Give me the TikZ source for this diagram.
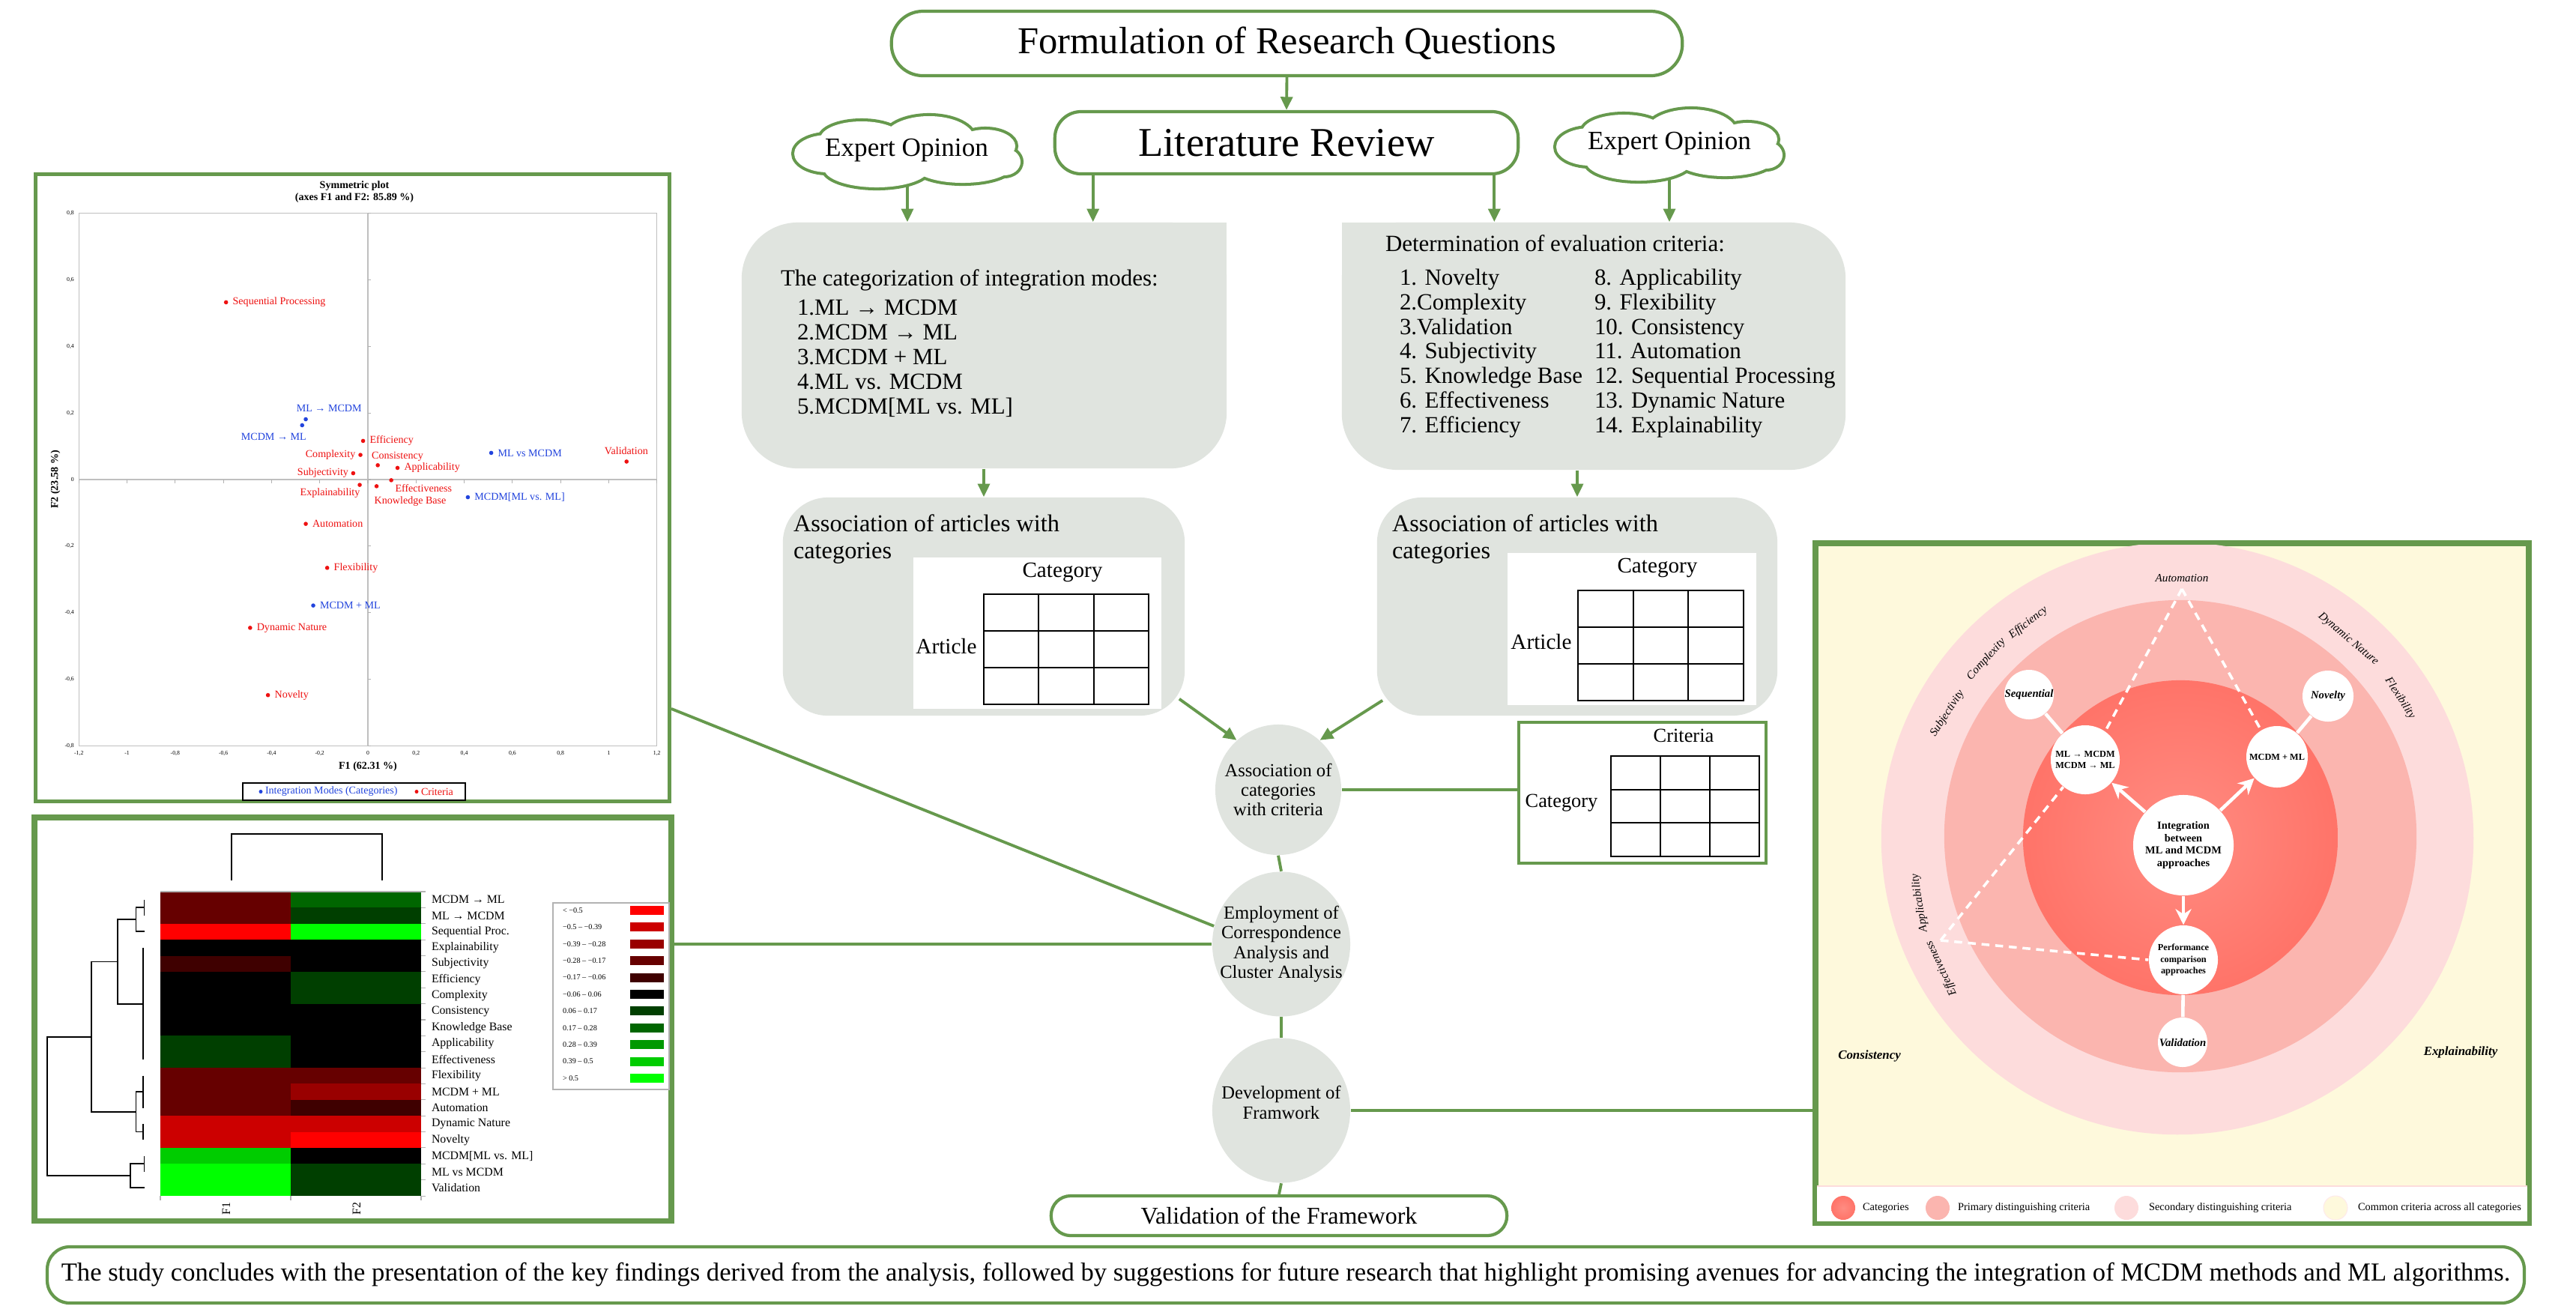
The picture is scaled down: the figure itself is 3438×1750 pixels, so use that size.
\documentclass[tikz,border=0pt]{standalone}
\usepackage{fontspec}
\setmainfont{Liberation Serif}
\usetikzlibrary{shapes.geometric,arrows.meta,calc}
\definecolor{gr}{HTML}{66994D}
\definecolor{gfill}{HTML}{E0E4DF}
\definecolor{cblue}{HTML}{2244DD}
\definecolor{cred}{HTML}{EE1111}
\definecolor{fwy}{HTML}{FEF9DC}
\definecolor{fwsec}{HTML}{FDDCDC}
\definecolor{fwpri}{HTML}{FBB5AF}
\definecolor{fwin}{HTML}{FF8C82}
\definecolor{fwout}{HTML}{FF5B4F}
\definecolor{hA}{HTML}{FF0000}
\definecolor{hB}{HTML}{CC0000}
\definecolor{hC}{HTML}{990000}
\definecolor{hD}{HTML}{660000}
\definecolor{hE}{HTML}{3F0000}
\definecolor{hF}{HTML}{000000}
\definecolor{hG}{HTML}{003F00}
\definecolor{hH}{HTML}{006600}
\definecolor{hI}{HTML}{009900}
\definecolor{hJ}{HTML}{00CC00}
\definecolor{hK}{HTML}{00FF00}
\pgfdeclareradialshading{catshade}{\pgfpoint{0bp}{0bp}}{color(0bp)=(fwin); color(50bp)=(fwout)}
\newcommand\myfs[2]{\fontsize{#1pt}{#2pt}\selectfont}
\newcommand\tgrid[4]{%
  \draw[gridl] (#1,#2) rectangle (#3,#4);
  \foreach \tt in {1,2}{%
    \draw[gridl] ({#1+(#3-#1)*\tt/3},#2) -- ({#1+(#3-#1)*\tt/3},#4);
    \draw[gridl] (#1,{#2+(#4-#2)*\tt/3}) -- (#3,{#2+(#4-#2)*\tt/3});}}
\newcommand\lobelist{1105/205/0.45/0.25, 1150/185/0.55/0.23, 1240/185/0.6/0.3, 1315/195/0.4/0.22, 1340/216/0.22/0.18, 1285/222/0.65/0.22, 1170/225/0.7/0.25, 1210/205/1.3/0.3}
\newcommand\drawcloud{%
  \foreach \cx/\cy/\rx/\ry in \lobelist {\draw[gr, line width=2.3pt] (\cx,\cy) ellipse [x radius=\rx cm, y radius=\ry cm];}
  \foreach \cx/\cy/\rx/\ry in \lobelist {\fill[white] (\cx,\cy) ellipse [x radius=\rx cm, y radius=\ry cm];}}
\tikzset{
  gline/.style={draw=gr, line width=1.1pt},
  garr/.style={gline, -{Triangle[width=4.5pt,length=5pt]}},
  stad/.style={draw=gr, line width=1.2pt, rounded corners=#1, fill=white, inner sep=0pt},
  greybox/.style={fill=gfill, rounded corners=0.75cm, inner sep=0pt},
  gell/.style={ellipse, fill=gfill, inner sep=0pt},
  panel/.style={draw=gr, line width=1.5pt, fill=white, inner sep=0pt},
  txt/.style={inner sep=0pt, outer sep=0pt},
  gridl/.style={draw=black, line width=0.6pt},
  wcirc/.style={circle, fill=white, inner sep=0pt},
  wline/.style={draw=white, line width=1.3pt},
  warr/.style={wline, -{Stealth[width=6pt,length=6pt]}},
  wdash/.style={draw=white, line width=1pt, dash pattern=on 3pt off 2.2pt},
  slab/.style={txt, font=\myfs{4}{4.6}},
  hlab/.style={txt, font=\myfs{4.5}{5}},
  hlegt/.style={txt, font=\myfs{2.9}{3.2}},
  fwt/.style={txt, align=center, font=\myfs{4.1}{4.7}\bfseries},
  fwi/.style={txt, font=\myfs{4.3}{5}\itshape},
  boxt/.style={txt, anchor=west, font=\myfs{8.8}{9.4}},
}
\begin{document}
\begin{tikzpicture}[x=0.01cm, y=-0.01cm]
\useasboundingbox (0,0) rectangle (3438,1750);
\fill[white] (0,0) rectangle (3438,1750);

% ---------------- top flow ----------------
\node[stad=0.42cm, minimum width=10.55cm, minimum height=0.86cm, font=\myfs{14.4}{16}] (rq) at (1717.5,58) {Formulation of Research Questions};
\node[stad=0.35cm, minimum width=6.18cm, minimum height=0.83cm, font=\myfs{15.5}{17}] (lit) at (1717,190.5) {Literature Review};
\drawcloud
\node[txt, font=\myfs{10}{11}] (eoL) at (1210,201) {Expert Opinion};
\begin{scope}[shift={(1017,-9)}]
\drawcloud
\end{scope}
\node[txt, font=\myfs{10}{11}] (eoR) at (2228,192) {Expert Opinion};
\coordinate (eoLb) at (1211,249);
\coordinate (eoRb) at (2228,240);

\node[greybox, minimum width=6.47cm, minimum height=3.28cm] (catbox) at (1313.5,461) {};
\fill[gfill] (1537,297) rectangle (1637,400);
\node[greybox, minimum width=6.72cm, minimum height=3.30cm] (detbox) at (2127,462) {};
\fill[gfill] (1791,297) rectangle (1891,400);

\draw[garr] (rq.south) -- (lit.north);
\coordinate (litA) at ($(lit.south west)+(53,0)$);
\coordinate (litB) at ($(lit.south east)+(-34,0)$);
\draw[garr] (eoLb) -- (eoLb |- catbox.north);
\draw[garr] (litA) -- (litA |- catbox.north);
\draw[garr] (litB) -- (litB |- detbox.north);
\draw[garr] (eoRb) -- (eoRb |- detbox.north);

\node[boxt] (cat0) at (1042,374) {The categorization of integration modes:};
\node[txt, anchor=north west, align=left, font=\myfs{8.8}{9.39}] (catL) at (1064,400) {1.ML → MCDM\\2.MCDM → ML\\3.MCDM + ML\\4.ML vs. MCDM\\5.MCDM[ML vs. ML]};
\node[boxt] (det0) at (1849,325) {Determination of evaluation criteria:};
\node[txt, anchor=north west, align=left, font=\myfs{8.8}{9.33}] (detA) at (1868,359) {1. Novelty\\2.Complexity\\3.Validation\\4. Subjectivity\\5. Knowledge Base\\6. Effectiveness\\7. Efficiency};
\node[txt, anchor=north west, align=left, font=\myfs{8.8}{9.33}] (detB) at (2128,359) {8. Applicability\\9. Flexibility\\10. Consistency\\11. Automation\\12. Sequential Processing\\13. Dynamic Nature\\14. Explainability};

% association boxes
\node[greybox, rounded corners=0.6cm, minimum width=5.36cm, minimum height=2.91cm] (assocL) at (1313,809.5) {};
\node[greybox, rounded corners=0.6cm, minimum width=5.34cm, minimum height=2.91cm] (assocR) at (2105,809.5) {};
\draw[garr] (catbox.south -| assocL.north) -- (assocL.north);
\draw[garr] (detbox.south -| assocR.north) -- (assocR.north);

\node[txt, anchor=west, align=left, font=\myfs{9.2}{10.2}] (aLt) at (1059,720) {Association of articles with\\categories};
\fill[white] (1219,744) rectangle (1550,946);
\node[txt, font=\myfs{8.3}{9}] (aLc) at (1418,764) {Category};
\node[txt, font=\myfs{8.3}{9}] (aLa) at (1263,862) {Article};
\tgrid{1313}{793}{1533}{940}

\node[txt, anchor=west, align=left, font=\myfs{9.2}{10.2}] (aRt) at (1858,720) {Association of articles with\\categories};
\fill[white] (2012,738) rectangle (2344,941);
\node[txt, font=\myfs{8.3}{9}] (aRc) at (2212,758) {Category};
\node[txt, font=\myfs{8.3}{9}] (aRa) at (2057,856) {Article};
\tgrid{2106}{788}{2327}{935}

% ---------------- central ellipses ----------------
\node[gell, minimum width=1.68cm, minimum height=1.74cm] (assocE) at (1706,1054) {};
\node[txt, align=center, font=\myfs{7}{7.5}] (assocEt) at (assocE) {Association of\\categories\\with criteria};
\node[gell, minimum width=1.84cm, minimum height=1.93cm] (empE) at (1710,1260) {};
\node[txt, align=center, font=\myfs{7}{7.5}] (empEt) at (empE) {Employment of\\Correspondence\\Analysis and\\Cluster Analysis};
\node[gell, minimum width=1.84cm, minimum height=1.93cm] (devE) at (1710,1482) {};
\node[txt, align=center, font=\myfs{7}{7.5}] (devEt) at ([yshift=3pt]devE.center) {Development of\\Framwork};
\node[stad=0.26cm, minimum width=6.08cm, minimum height=0.53cm, font=\myfs{9.1}{10}] (valid) at (1707,1622.5) {Validation of the Framework};

\coordinate (aLend) at ($(assocL.south east)+(-8,-23)$);
\coordinate (aRend) at ($(assocR.south west)+(8,-21)$);
\draw[garr] (aLend) -- (assocE.130);
\draw[garr] (aRend) -- (assocE.50);
\draw[gline] (assocE.south) -- (empE.north);
\draw[gline] (empE.south) -- (devE.north);
\draw[gline] (devE.south) -- (valid.north);

% criteria box
\node[draw=gr, line width=1.2pt, fill=white, inner sep=0pt, minimum width=3.30cm, minimum height=1.88cm] (critbox) at (2192,1058) {};
\node[txt, font=\myfs{7.5}{8}] (critT) at (2247,982) {Criteria};
\node[txt, font=\myfs{7.5}{8}] (critC) at (2084,1072) {Category};
\tgrid{2150}{1009}{2348}{1143}
\draw[gline] (assocE.east) -- (assocE.east -| critbox.west);

% bottom sentence
\node[stad=0.3cm, minimum width=33.04cm, minimum height=0.75cm, font=\myfs{9.84}{11}] (concl) at (1716,1701.5) {The study concludes with the presentation of the key findings derived from the analysis, followed by suggestions for future research that highlight promising avenues for advancing the integration of MCDM methods and ML algorithms.};

% ---------------- scatter panel ----------------
\node[panel, minimum width=8.45cm, minimum height=8.36cm] (scatter) at (470.5,651) {};
\node[txt, align=center, font=\myfs{4}{4.6}\bfseries] (stitle) at (473,256) {Symmetric plot\\(axes F1 and F2: 85.89 \%)};
\node[txt, font=\myfs{4}{4.6}\bfseries] (sxl) at (491,1023) {F1 (62.31 \%)};
\node[txt, rotate=90, font=\myfs{4}{4.6}\bfseries] (syl) at (74,640) {F2 (23.58 \%)};
\begin{scope}[shift={(491,640)}, x=3.2125cm, y=4.444cm]
  \draw[gray!50, line width=0.3pt] (-1.2,-0.8) rectangle (1.2,0.8);
  \draw[gray!50, line width=0.3pt] (-1.2,0) -- (1.2,0);
  \draw[gray!50, line width=0.3pt] (0,-0.8) -- (0,0.8);
  \foreach \v/\t [count=\k] in {-1.2/{-1,2},-1/{-1},-0.8/{-0,8},-0.6/{-0,6},-0.4/{-0,4},-0.2/{-0,2},0/{0},0.2/{0,2},0.4/{0,4},0.6/{0,6},0.8/{0,8},1/{1},1.2/{1,2}}{
    \draw[gray!60, line width=0.3pt] (\v,0) -- ++(0,-0.012);
    \node[txt, anchor=north, font=\myfs{2.2}{2.5}] (sx\k) at (\v,-0.815) {\t};}
  \foreach \v/\t [count=\k] in {0.8/{0,8},0.6/{0,6},0.4/{0,4},0.2/{0,2},0/{0},-0.2/{-0,2},-0.4/{-0,4},-0.6/{-0,6},-0.8/{-0,8}}{
    \draw[gray!60, line width=0.3pt] (0,\v) -- ++(0.012,0);
    \node[txt, anchor=east, font=\myfs{2.2}{2.5}] (sy\k) at (-1.22,\v) {\t};}
  \foreach \px/\py in {-0.589/0.532,-0.020/0.116,-0.031/0.074,0.041/0.043,0.123/0.035,-0.061/0.019,0.097/-0.002,0.036/-0.020,-0.034/-0.016,1.074/0.054,-0.258/-0.133,-0.169/-0.265,-0.489/-0.445,-0.415/-0.647}{
    \fill[cred] (\px,\py) circle (0.028cm);}
  \foreach \px/\py in {-0.258/0.181,-0.273/0.163,0.512/0.080,0.415/-0.053,-0.227/-0.378}{
    \fill[cblue] (\px,\py) circle (0.028cm);}
  \node[slab, text=cred, anchor=west] (lSP) at (-0.561,0.532) {Sequential Processing};
  \node[slab, text=cred, anchor=west] (lEf) at (0.008,0.116) {Efficiency};
  \node[slab, text=cred, anchor=east] (lCx) at (-0.052,0.074) {Complexity};
  \node[slab, text=cred] (lCs) at (0.123,0.070) {Consistency};
  \node[slab, text=cred, anchor=west] (lAp) at (0.151,0.035) {Applicability};
  \node[slab, text=cred, anchor=east] (lSu) at (-0.081,0.019) {Subjectivity};
  \node[slab, text=cred] (lEv) at (0.231,-0.025) {Effectiveness};
  \node[slab, text=cred] (lKB) at (0.176,-0.066) {Knowledge Base};
  \node[slab, text=cred] (lEx) at (-0.157,-0.041) {Explainability};
  \node[slab, text=cred] (lVa) at (1.073,0.086) {Validation};
  \node[slab, text=cred, anchor=west] (lAu) at (-0.230,-0.133) {Automation};
  \node[slab, text=cred, anchor=west] (lFl) at (-0.141,-0.265) {Flexibility};
  \node[slab, text=cred, anchor=west] (lDN) at (-0.461,-0.445) {Dynamic Nature};
  \node[slab, text=cred, anchor=west] (lNo) at (-0.387,-0.647) {Novelty};
  \node[slab, text=cblue] (lM1) at (-0.161,0.213) {ML → MCDM};
  \node[slab, text=cblue] (lM2) at (-0.391,0.128) {MCDM → ML};
  \node[slab, text=cblue, anchor=west] (lM4) at (0.540,0.080) {ML vs MCDM};
  \node[slab, text=cblue, anchor=west] (lM5) at (0.443,-0.053) {MCDM[ML vs. ML]};
  \node[slab, text=cblue, anchor=west] (lM3) at (-0.199,-0.378) {MCDM + ML};
\end{scope}
\node[draw=black, line width=0.6pt, fill=white, inner sep=0pt, minimum width=2.97cm, minimum height=0.23cm] (sleg) at (472.5,1056.5) {};
\fill[cblue] (348,1056.5) circle (0.025cm);
\node[slab, text=cblue, anchor=west] (slegA) at (354,1056.5) {Integration Modes (Categories)};
\fill[cred] (556,1056.5) circle (0.025cm);
\node[slab, text=cred, anchor=west] (slegB) at (562,1056.5) {Criteria};

% ---------------- heatmap panel ----------------
\node[panel, minimum width=8.46cm, minimum height=5.36cm] (heat) at (471,1360) {};
\foreach \lab/\ca/\cb [count=\i] in {MCDM → ML/hD/hH, ML → MCDM/hD/hG, Sequential Proc./hA/hK, Explainability/hF/hF, Subjectivity/hE/hF, Efficiency/hF/hG, Complexity/hF/hG, Consistency/hF/hF, Knowledge Base/hF/hF, Applicability/hG/hF, Effectiveness/hG/hF, Flexibility/hD/hD, MCDM + ML/hD/hC, Automation/hD/hE, Dynamic Nature/hB/hB, Novelty/hB/hA, {MCDM[ML vs. ML]}/hJ/hF, ML vs MCDM/hK/hG, Validation/hK/hG}{
  \fill[\ca] (214,{1190+(\i-1)*21.37}) rectangle (388.5,{1190+\i*21.37});
  \fill[\cb] (388,{1190+(\i-1)*21.37}) rectangle (562,{1190+\i*21.37});
  \node[hlab, anchor=west] (hl\i) at (576,{1190+(\i-0.5)*21.37}) {\lab};}
\draw[gray!60, line width=0.4pt] (214,1190) -- (562,1190);
\foreach \i in {0,...,19}{\draw[gray!60, line width=0.3pt] (562,{1190+\i*21.37}) -- (568,{1190+\i*21.37});}
\foreach \xx in {214,388,562}{\draw[gray!60, line width=0.3pt] (\xx,1596) -- (\xx,1602);}
\node[txt, rotate=90, font=\myfs{4.5}{5}] (hF1) at (302,1613) {F1};
\node[txt, rotate=90, font=\myfs{4.5}{5}] (hF2) at (476,1613) {F2};
\begin{scope}[black, line width=0.55pt]
  \draw (309,1175) -- (309,1113) -- (510,1113) -- (510,1175);
  \draw (192.5,1200.7) -- (192.5,1222.1);
  \draw (192.5,1211.4) -- (181.5,1211.4) -- (181.5,1243.4) -- (192.5,1243.4);
  \draw (191.4,1264.8) -- (191.4,1414.4);
  \draw (181.5,1227.4) -- (156.8,1227.4) -- (156.8,1339.6) -- (191.4,1339.6);
  \draw (191.4,1435.7) -- (191.4,1478.5);
  \draw (191.4,1499.8) -- (191.4,1521.2);
  \draw (191.4,1457.1) -- (181.5,1457.1) -- (181.5,1510.5) -- (191.4,1510.5);
  \draw (156.8,1283.5) -- (122.3,1283.5) -- (122.3,1483.8) -- (181.5,1483.8);
  \draw (192.5,1542.6) -- (192.5,1563.9);
  \draw (192.5,1553.3) -- (174.4,1553.3) -- (174.4,1585.3) -- (192.5,1585.3);
  \draw (122.3,1383.7) -- (63,1383.7) -- (63,1569.3) -- (174.4,1569.3);
\end{scope}
\node[draw=gray!60, line width=0.4pt, fill=white, inner sep=0pt, minimum width=1.55cm, minimum height=2.49cm] (hleg) at (815.5,1329.5) {};
\foreach \t/\c [count=\i] in {{< −0.5}/hA,{−0.5 – −0.39}/hB,{−0.39 – −0.28}/hC,{−0.28 – −0.17}/hD,{−0.17 – −0.06}/hE,{−0.06 – 0.06}/hF,{0.06 – 0.17}/hG,{0.17 – 0.28}/hH,{0.28 – 0.39}/hI,{0.39 – 0.5}/hJ,{> 0.5}/hK}{
  \node[hlegt, anchor=west] (lg\i) at (751,{1215+(\i-1)*22.4}) {\t};
  \fill[\c] (841,{1209+(\i-1)*22.4}) rectangle (886,{1221+(\i-1)*22.4});}
\draw[draw=gr, line width=1.5pt] (heat.south west) rectangle (heat.north east);

% connectors from panels
\coordinate (scOut) at ($(scatter.south east)+(0,-126)$);
\draw[gline] (scOut) -- (empE.165);
\draw[gline] (heat.east |- empE.west) -- (empE.west);

% ---------------- framework panel ----------------
\node[panel, fill=fwy, minimum width=9.48cm, minimum height=9.03cm] (fw) at (2899,1178.5) {};
\begin{scope}
  \clip (2425,727) rectangle (3373,1583);
  \fill[fwsec] (2906,1119) circle (3.95cm);
\end{scope}
\fill[fwpri] (2910,1116) circle (3.15cm);
\shade[shading=catshade] (2910,1118) circle (2.1cm);

\node[wcirc, minimum size=0.66cm] (seq) at (2708,927) {};
\node[wcirc, minimum size=0.92cm] (mlc) at (2783,1014) {};
\node[wcirc, minimum size=0.82cm] (mcml) at (3039,1010) {};
\node[wcirc, minimum size=0.68cm] (nov) at (3107,929) {};
\node[wcirc, minimum size=1.34cm] (integ) at (2914,1128) {};
\node[wcirc, minimum size=0.92cm] (perf) at (2914,1281) {};
\node[wcirc, minimum size=0.66cm] (val) at (2913,1391) {};

\draw[wline] (seq) -- (mlc);
\draw[wline] (nov) -- (mcml);
\draw[wline] (perf) -- (val);
\draw[warr] (integ) -- (mlc);
\draw[warr] (integ) -- (mcml);
\draw[warr] (integ) -- (perf);
\coordinate (autoP) at (2912,786);
\coordinate (effP) at (2590,1255);
\draw[wdash] (autoP) -- (mlc.55);
\draw[wdash] (autoP) -- (mcml.121);
\draw[wdash] (effP) -- (mlc.231);
\draw[wdash] (effP) -- (perf.west);

\node[fwt, font=\myfs{4.2}{4.8}\bfseries\itshape] (seqT) at (seq) {Sequential};
\node[fwt, font=\myfs{3.5}{4.2}\bfseries] (mlcT) at (mlc) {ML → MCDM\\MCDM → ML};
\node[fwt, font=\myfs{3.5}{4.2}\bfseries] (mcmlT) at (mcml) {MCDM + ML};
\node[fwt, font=\myfs{4.2}{4.8}\bfseries\itshape] (novT) at (nov) {Novelty};
\node[fwt] (integT) at (integ) {Integration\\between\\ML and MCDM\\approaches};
\node[fwt, font=\myfs{3.5}{4.3}\bfseries] (perfT) at (perf) {Performance\\comparison\\approaches};
\node[fwt, font=\myfs{4.2}{4.8}\bfseries\itshape] (valT) at (val) {Validation};

\node[fwi] (tAu) at (2912,772) {Automation};
\node[fwi, rotate=57] (tSu) at (2599,952) {Subjectivity};
\node[fwi, rotate=48] (tCo) at (2651,880) {Complexity};
\node[fwi, rotate=38] (tEf) at (2707,831) {Efficiency};
\node[fwi, rotate=-40] (tDN) at (3134,853) {Dynamic Nature};
\node[fwi, rotate=-57] (tFl) at (3203,932) {Flexibility};
\node[fwi, rotate=99] (tAp) at (2562,1205) {Applicability};
\node[fwi, rotate=115] (tEv) at (2591,1292) {Effectiveness};
\node[txt, font=\myfs{4.8}{5.4}\bfseries\itshape] (tCs) at (2495,1409) {Consistency};
\node[txt, font=\myfs{4.8}{5.4}\bfseries\itshape] (tEx) at (3284,1404) {Explainability};

\fill[white] (2425,1583) rectangle (3373,1630);
\draw[fwsec, line width=0.4pt] (2425,1583) -- (3373,1583);
\shade[shading=catshade] (2460,1612) circle (0.16cm);
\fill[fwpri] (2586,1612) circle (0.16cm);
\fill[fwsec] (2838,1612) circle (0.16cm);
\filldraw[fill=fwy, draw=fwsec!60, line width=0.3pt] (3117,1612) circle (0.16cm);
\node[txt, anchor=west, font=\myfs{4.1}{4.6}] (lgA) at (2486,1612) {Categories};
\node[txt, anchor=west, font=\myfs{4.1}{4.6}] (lgB) at (2613,1612) {Primary distinguishing criteria};
\node[txt, anchor=west, font=\myfs{4.1}{4.6}] (lgC) at (2868,1612) {Secondary distinguishing criteria};
\node[txt, anchor=west, font=\myfs{4.1}{4.6}] (lgD) at (3147,1612) {Common criteria across all categories};
\draw[draw=gr, line width=1.5pt] (fw.south west) rectangle (fw.north east);
\draw[gline] (devE.east) -- (devE.east -| fw.west);
\end{tikzpicture}
\end{document}
